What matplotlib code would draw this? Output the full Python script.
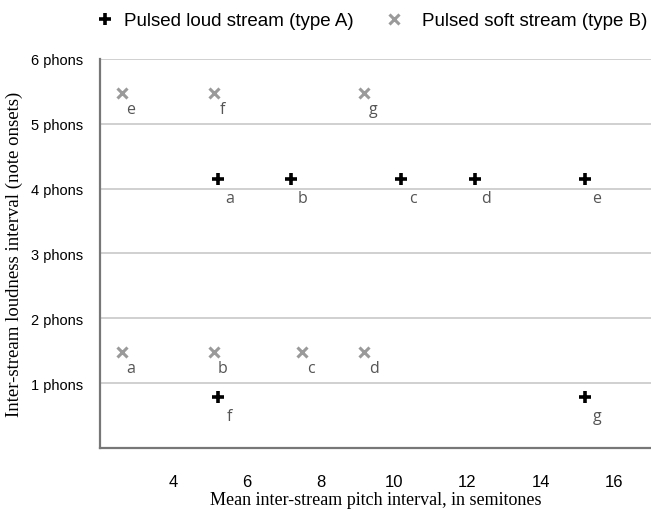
import matplotlib
matplotlib.use('Agg')
import matplotlib.pyplot as plt

# loud stream (type A) conditions
a_names = ['a', 'b', 'c', 'd', 'e', 'f', 'g']
a_pitch = [5.2, 7.2, 10.2, 12.2, 15.2, 5.2, 15.2]
a_loud = [4.15, 4.15, 4.15, 4.15, 4.15, 0.78, 0.78]

# soft stream (type B) conditions
b_names = ['a', 'b', 'c', 'd', 'e', 'f', 'g']
b_pitch = [2.6, 5.1, 7.5, 9.2, 2.6, 5.1, 9.2]
b_loud = [1.48, 1.48, 1.48, 1.48, 5.48, 5.48, 5.48]

x_ticks = [4, 6, 8, 10, 12, 14, 16]
y_ticks = [1, 2, 3, 4, 5, 6]
y_labels = [str(v) + ' phons' for v in y_ticks]

fig = plt.figure(figsize=(6.51, 5.10), dpi=100)
ax = fig.add_axes([0.1536, 0.1196, 0.8464, 0.7628])

for y in y_ticks:
    ax.axhline(y, color='#d0d0d0', lw=1.4, zorder=0)

la, = ax.plot(a_pitch, a_loud, linestyle='none', marker='+', color='black',
              markersize=9, markeredgewidth=2.6)
lb, = ax.plot(b_pitch, b_loud, linestyle='none', marker='x', color='#9a9a9a',
              markersize=7, markeredgewidth=2.2)

for n, x, y in zip(a_names, a_pitch, a_loud):
    ax.annotate(n, (x, y), xytext=(8.5, -13.5), textcoords='offset points',
                ha='center', va='center', fontsize=11.5, color='#555555',
                family='Open Sans')
for n, x, y in zip(b_names, b_pitch, b_loud):
    ax.annotate(n, (x, y), xytext=(6.5, -11.5), textcoords='offset points',
                ha='center', va='center', fontsize=11.5, color='#555555',
                family='Open Sans')

ax.set_xlim(2, 17)
ax.set_ylim(0, 6)
ax.set_xticks(x_ticks)
ax.set_xticklabels([str(v) for v in x_ticks], family='Liberation Sans', fontsize=12)
ax.set_yticks(y_ticks)
ax.set_yticklabels(y_labels, family='Liberation Sans', fontsize=10.5)
ax.tick_params(axis='x', length=0, pad=19)
ax.tick_params(axis='y', length=0, pad=12)

for s in ['top', 'right']:
    ax.spines[s].set_visible(False)
for s in ['left', 'bottom']:
    ax.spines[s].set_color('#777777')
    ax.spines[s].set_linewidth(1.6)

ax.set_xlabel('Mean inter-stream pitch interval, in semitones',
              family='Liberation Serif', fontsize=13, labelpad=1)
ax.set_ylabel('Inter-stream loudness interval (note onsets)',
              family='Liberation Serif', fontsize=13.5, labelpad=6)

# two separate legend entries across the top
leg_font = {'family': 'Liberation Sans', 'size': 13.5}
fig.legend([la], ['Pulsed loud stream (type A)'], loc='center left',
           bbox_to_anchor=(0.1216, 0.957), frameon=False, prop=leg_font,
           handletextpad=0.48, handlelength=1.0)
fig.legend([lb], ['Pulsed soft stream (type B)'], loc='center left',
           bbox_to_anchor=(0.5656, 0.957), frameon=False, prop=leg_font,
           handletextpad=0.99, handlelength=1.0)

fig.savefig('out.png', dpi=100)
